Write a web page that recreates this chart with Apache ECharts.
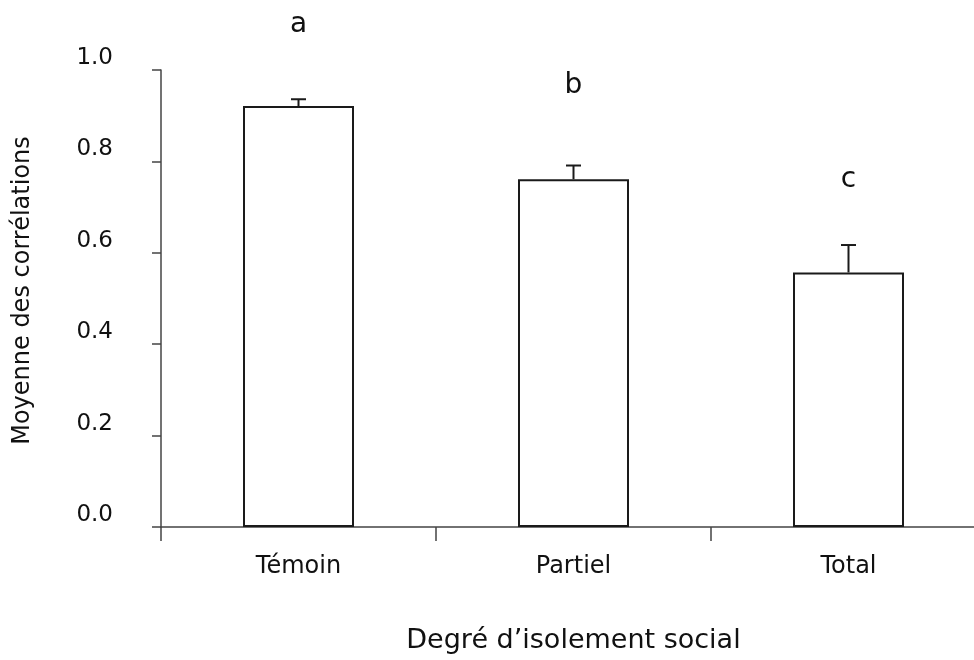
<!DOCTYPE html>
<html>
<head>
<meta charset="utf-8">
<script src="https://cdn.jsdelivr.net/npm/echarts@6/dist/echarts.min.js"></script>
<style>html,body{margin:0;padding:0;background:#fff}#c{width:974px;height:660px}</style>
</head>
<body>
<div id="c"></div>
<script>
const categories = ['Témoin', 'Partiel', 'Total'];
const means = [0.921, 0.761, 0.557];
const errors = [0.015, 0.030, 0.060];
const letters = ['a', 'b', 'c'];
const letterLevels = [1.10, 0.965, 0.76];
const yTicks = [0, 0.2, 0.4, 0.6, 0.8, 1.0];

const FONT = 'DejaVu Sans';
const chart = echarts.init(document.getElementById('c'), null, {renderer: 'canvas'});

const errData = categories.map((c, i) => [i, means[i], means[i] + errors[i]]);
const letterData = categories.map((c, i) => [i, letterLevels[i], letters[i]]);

chart.setOption({
  backgroundColor: '#fff',
  animation: false,
  grid: {left: 161, top: 70, width: 825, height: 457, containLabel: false, outerBoundsMode: 'none'},
  xAxis: {
    type: 'category',
    data: categories,
    name: 'Degré d\u2019isolement social',
    nameLocation: 'middle',
    nameGap: 114,
    nameTextStyle: {fontFamily: FONT, fontSize: 27, color: '#111', verticalAlign: 'middle'},
    axisLine: {lineStyle: {color: '#444', width: 1.5}},
    axisTick: {show: true, length: 14, alignWithLabel: false, lineStyle: {color: '#444', width: 1.5}},
    axisLabel: {fontFamily: FONT, fontSize: 24, color: '#111', margin: 28, lineHeight: 24}
  },
  yAxis: {
    type: 'value',
    min: 0, max: 1, interval: 0.2,
    name: 'Moyenne des corrélations',
    nameLocation: 'middle',
    nameGap: 138,
    nameRotate: 90,
    nameTextStyle: {fontFamily: FONT, fontSize: 24, color: '#111', verticalAlign: 'middle', padding: [0, 0, 0, 16]},
    axisLine: {show: true, lineStyle: {color: '#444', width: 1.5}},
    axisTick: {show: true, length: 9, lineStyle: {color: '#444', width: 1.5}},
    splitLine: {show: false},
    axisLabel: {
      fontFamily: FONT, fontSize: 23, color: '#111', margin: 48,
      verticalAlign: 'bottom', lineHeight: 24,
      formatter: v => yTicks.some(t => Math.abs(t - v) < 1e-9) ? v.toFixed(1) : ''
    }
  },
  series: [
    {
      type: 'bar',
      data: means,
      barWidth: 111,
      itemStyle: {color: '#fff', borderColor: '#1a1a1a', borderWidth: 2},
      z: 2
    },
    {
      type: 'custom',
      data: errData,
      z: 3,
      renderItem: (params, api) => {
        const lo = api.coord([api.value(0), api.value(1)]);
        const hi = api.coord([api.value(0), api.value(2)]);
        const half = 7.5;
        return {
          type: 'group',
          children: [
            {type: 'line', shape: {x1: lo[0], y1: lo[1], x2: hi[0], y2: hi[1]}, style: {stroke: '#1a1a1a', lineWidth: 2}},
            {type: 'line', shape: {x1: hi[0] - half, y1: hi[1], x2: hi[0] + half, y2: hi[1]}, style: {stroke: '#1a1a1a', lineWidth: 2}}
          ]
        };
      }
    },
    {
      type: 'custom',
      data: letterData,
      z: 4,
      renderItem: (params, api) => {
        const p = api.coord([api.value(0), api.value(1)]);
        return {
          type: 'text',
          x: p[0], y: p[1],
          style: {text: letters[params.dataIndex], fontFamily: FONT, fontSize: 28, fill: '#111', align: 'center', verticalAlign: 'middle'}
        };
      }
    }
  ]
});
</script>
</body>
</html>
